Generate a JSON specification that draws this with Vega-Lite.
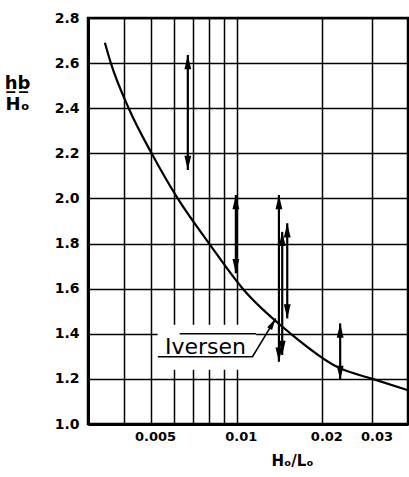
{
  "$schema": "https://vega.github.io/schema/vega-lite/v6.json",
  "width": 320,
  "height": 406,
  "autosize": {"type": "none"},
  "padding": {"left": 88, "top": 18, "right": 1, "bottom": 53},
  "background": "white",
  "config": {"view": {"stroke": "black", "strokeWidth": 2.5}, "font": "DejaVu Sans"},
  "datasets": {
    "curve": [
      {"x": 0.00344, "y": 2.69},
      {"x": 0.00361, "y": 2.6},
      {"x": 0.00417, "y": 2.4},
      {"x": 0.00502, "y": 2.2},
      {"x": 0.0062, "y": 2.0},
      {"x": 0.0080, "y": 1.8},
      {"x": 0.0105, "y": 1.6},
      {"x": 0.0155, "y": 1.4},
      {"x": 0.0228, "y": 1.25},
      {"x": 0.03, "y": 1.2},
      {"x": 0.04, "y": 1.15}
    ],
    "arrows": [
      {"x": 0.00673, "top": 2.636, "bottom": 2.126},
      {"x": 0.00993, "top": 2.015, "bottom": 1.668},
      {"x": 0.01407, "top": 2.015, "bottom": 1.276},
      {"x": 0.01445, "top": 1.852, "bottom": 1.306},
      {"x": 0.01505, "top": 1.89, "bottom": 1.468},
      {"x": 0.0231, "top": 1.446, "bottom": 1.195}
    ],
    "pointer": [
      {"x": 0.00528, "y": 1.298, "o": 1},
      {"x": 0.01136, "y": 1.298, "o": 2},
      {"x": 0.01371, "y": 1.468, "o": 3}
    ]
  },
  "layer": [
    {
      "data": {"values": [{"x": 0.00527, "x2": 0.0117, "y": 1.24, "y2": 1.44}]},
      "mark": {"type": "rect", "fill": "white", "stroke": null},
      "encoding": {
        "x": {
          "field": "x", "type": "quantitative",
          "scale": {"type": "log", "domain": [0.003, 0.04], "nice": false},
          "axis": {
            "values": [0.004, 0.005, 0.006, 0.007, 0.008, 0.009, 0.01, 0.02, 0.03, 0.04],
            "labelExpr": "datum.value == 0.005 ? '0.005' : datum.value == 0.01 ? '0.01' : datum.value == 0.02 ? '0.02' : datum.value == 0.03 ? '0.03' : ''",
            "grid": true, "gridColor": "black", "gridWidth": 1.5, "gridOpacity": 1,
            "ticks": false, "domainColor": "black", "domainWidth": 3,
            "labelFont": "DejaVu Sans", "labelFontSize": 13, "labelFontWeight": "bold", "labelColor": "black",
            "labelPadding": 6, "labelOffset": 4, "labelFlush": false, "labelOverlap": false,
            "title": "Hₒ/Lₒ", "titleX": 204, "titleY": 36, "titleBaseline": "middle",
            "titleAlign": "center", "titleFontSize": 15, "titleFontWeight": "bold", "titleColor": "black"
          }
        },
        "x2": {"field": "x2"},
        "y": {
          "field": "y", "type": "quantitative",
          "scale": {"domain": [1.0, 2.8], "nice": false, "zero": false},
          "axis": {
            "values": [1.0, 1.2, 1.4, 1.6, 1.8, 2.0, 2.2, 2.4, 2.6, 2.8],
            "format": ".1f",
            "grid": true, "gridColor": "black", "gridWidth": 1.5, "gridOpacity": 1,
            "ticks": false, "domainColor": "black", "domainWidth": 3,
            "labelFont": "DejaVu Sans", "labelFontSize": 14, "labelFontWeight": "bold", "labelColor": "black",
            "labelPadding": 9, "labelFlush": false, "labelOverlap": false,
            "title": ["h̲b̲", "Hₒ"], "titleAngle": 0, "titleX": -71, "titleY": 65,
            "titleAlign": "center", "titleBaseline": "middle", "titleFontSize": 18,
            "titleFontWeight": "bold", "titleColor": "black", "titleLineHeight": 21
          }
        },
        "y2": {"field": "y2"}
      }
    },
    {
      "data": {"values": [{"x": 0.0063, "x2": 0.0117, "y": 1.4}]},
      "mark": {"type": "rule", "color": "black", "strokeWidth": 1.5},
      "encoding": {
        "x": {"field": "x", "type": "quantitative"},
        "x2": {"field": "x2"},
        "y": {"field": "y", "type": "quantitative"}
      }
    },
    {
      "data": {"name": "curve"},
      "mark": {"type": "line", "color": "black", "strokeWidth": 2.2, "interpolate": "monotone"},
      "encoding": {
        "x": {"field": "x", "type": "quantitative"},
        "y": {"field": "y", "type": "quantitative"}
      }
    },
    {
      "data": {"name": "arrows"},
      "mark": {"type": "rule", "color": "black", "strokeWidth": 2.2},
      "encoding": {
        "x": {"field": "x", "type": "quantitative"},
        "y": {"field": "top", "type": "quantitative"},
        "y2": {"field": "bottom"}
      }
    },
    {
      "data": {"name": "arrows"},
      "mark": {"type": "point", "shape": "M0,0L0.6,2.5L-0.6,2.5Z", "filled": true, "color": "black", "opacity": 1, "size": 130},
      "encoding": {
        "x": {"field": "x", "type": "quantitative"},
        "y": {"field": "top", "type": "quantitative"}
      }
    },
    {
      "data": {"name": "arrows"},
      "mark": {"type": "point", "shape": "M0,0L0.6,-2.5L-0.6,-2.5Z", "filled": true, "color": "black", "opacity": 1, "size": 130},
      "encoding": {
        "x": {"field": "x", "type": "quantitative"},
        "y": {"field": "bottom", "type": "quantitative"}
      }
    },
    {
      "data": {"name": "pointer"},
      "mark": {"type": "line", "color": "black", "strokeWidth": 1.6},
      "encoding": {
        "x": {"field": "x", "type": "quantitative"},
        "y": {"field": "y", "type": "quantitative"},
        "order": {"field": "o"}
      }
    },
    {
      "data": {"values": [{"x": 0.01371, "y": 1.468}]},
      "mark": {"type": "point", "shape": "M0,0L0.6,2.5L-0.6,2.5Z", "filled": true, "color": "black", "opacity": 1, "size": 90, "angle": 31},
      "encoding": {
        "x": {"field": "x", "type": "quantitative"},
        "y": {"field": "y", "type": "quantitative"}
      }
    },
    {
      "data": {"values": [{"x": 0.00776, "y": 1.341, "label": "Iversen"}]},
      "mark": {"type": "text", "font": "DejaVu Sans", "fontSize": 22, "color": "black", "align": "center", "baseline": "middle"},
      "encoding": {
        "x": {"field": "x", "type": "quantitative"},
        "y": {"field": "y", "type": "quantitative"},
        "text": {"field": "label"}
      }
    }
  ]
}
